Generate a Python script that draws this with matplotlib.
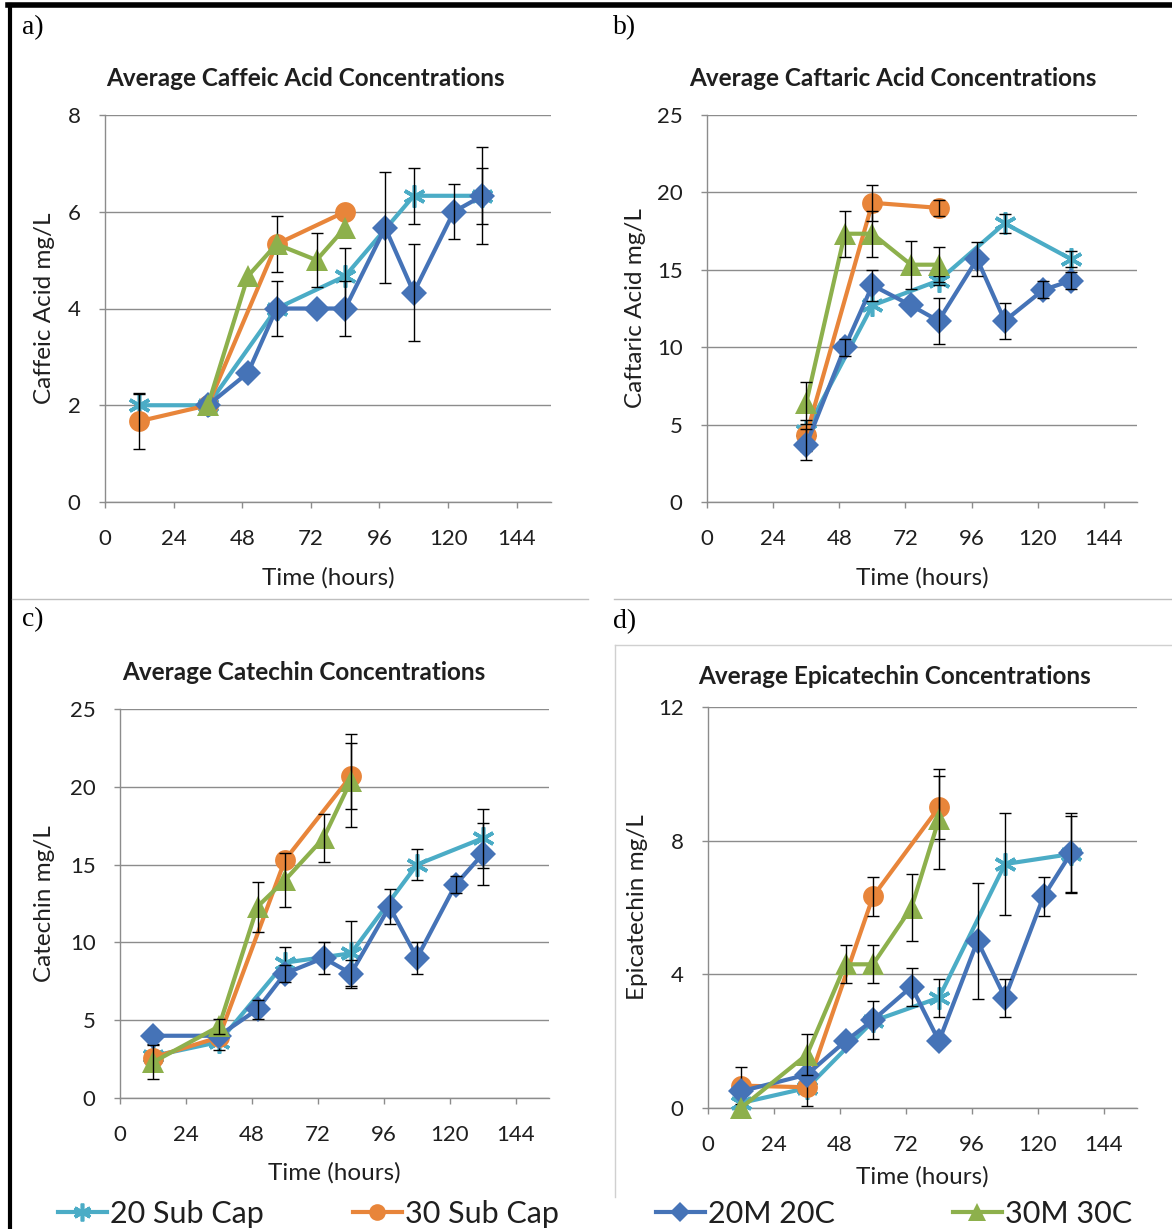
import numpy as np
import matplotlib
matplotlib.use("Agg")
import matplotlib.pyplot as plt
from matplotlib.lines import Line2D

# Sampling times (hours) for each treatment
hours_20sub = [12, 36, 60, 84, 108, 132]
hours_30sub = [12, 36, 60, 84]
hours_20m = [12, 36, 50, 60, 74, 84, 98, 108, 122, 132]
hours_30m = [12, 36, 50, 60, 74, 84]

series_names = ["20 Sub Cap", "30 Sub Cap", "20M 20C", "30M 30C"]

# Caffeic acid (mg/L) and standard deviations
caffeic_20sub = [2.0, 2.0, 4.0, 4.67, 6.33, 6.33]
caffeic_20sub_sd = [0.23, 0, 0, 0.58, 0.58, 0.58]
caffeic_30sub = [1.67, 2.0, 5.33, 6.0]
caffeic_30sub_sd = [0.58, 0, 0.58, 0]
caffeic_20m = [np.nan, 2.0, 2.67, 4.0, 4.0, 4.0, 5.67, 4.33, 6.0, 6.33]
caffeic_20m_sd = [0, 0, 0, 0.57, 0, 0.57, 1.15, 1.0, 0.57, 1.0]
caffeic_30m = [np.nan, 2.0, 4.67, 5.33, 5.0, 5.67]
caffeic_30m_sd = [0, 0, 0, 0, 0.56, 0]

# Caftaric acid (mg/L)
caftaric_20sub = [np.nan, 4.6, 12.7, 14.3, 18.0, 15.7]
caftaric_20sub_sd = [0, 0, 0, 0.3, 0.6, 0.5]
caftaric_30sub = [np.nan, 4.3, 19.33, 19.0]
caftaric_30sub_sd = [0, 1.0, 1.15, 0.5]
caftaric_20m = [np.nan, 3.7, 10.0, 14.0, 12.7, 11.7, 15.7, 11.7, 13.7, 14.3]
caftaric_20m_sd = [0, 1.0, 0.55, 1.0, 0, 1.5, 1.1, 1.15, 0.55, 0.55]
caftaric_30m = [np.nan, 6.4, 17.33, 17.33, 15.33, 15.33]
caftaric_30m_sd = [0, 1.35, 1.5, 1.5, 1.55, 1.15]

# Catechin (mg/L)
catechin_20sub = [2.7, 3.6, 8.7, 9.3, 15.0, 16.7]
catechin_20sub_sd = [0.8, 0.5, 1.0, 2.1, 1.0, 1.9]
catechin_30sub = [2.6, 3.9, 15.3, 20.7]
catechin_30sub_sd = [0, 0, 0, 2.1]
catechin_20m = [4.0, 4.0, 5.7, 8.0, 9.0, 8.0, 12.3, 9.0, 13.7, 15.7]
catechin_20m_sd = [0, 0, 0.6, 0.55, 1.0, 0.9, 1.1, 1.0, 0.55, 2.0]
catechin_30m = [2.3, 4.6, 12.3, 14.0, 16.7, 20.4]
catechin_30m_sd = [1.1, 0.5, 1.6, 1.75, 1.55, 3.0]

# Epicatechin (mg/L)
epicatechin_20sub = [0.15, 0.6, 2.6, 3.3, 7.3, 7.6]
epicatechin_20sub_sd = [0, 0, 0, 0.57, 1.52, 1.15]
epicatechin_30sub = [0.67, 0.62, 6.33, 9.0]
epicatechin_30sub_sd = [0.55, 0.55, 0.57, 0.95]
epicatechin_20m = [0.5, 1.0, 2.0, 2.63, 3.63, 2.0, 5.0, 3.3, 6.33, 7.63]
epicatechin_20m_sd = [0, 0, 0, 0.57, 0.57, 0, 1.73, 0.57, 0.57, 1.2]
epicatechin_30m = [0.0, 1.6, 4.3, 4.3, 6.0, 8.65]
epicatechin_30m_sd = [0, 0.6, 0.57, 0.57, 1.0, 1.5]

x_ticks = [0, 24, 48, 72, 96, 120, 144]

W, H = 1172, 1229
fig = plt.figure(figsize=(W / 100, H / 100), dpi=100)

SANS = ["Lato", "DejaVu Sans"]
SERIF = ["Liberation Serif", "DejaVu Serif"]
NARROW = ["Liberation Sans Narrow", "Lato", "DejaVu Sans"]

styles = [
    dict(color="#4BACC6", marker=(6, 2, 0), ms=16, mew=2.6, filled=False),
    dict(color="#E8853A", marker="o", ms=15, mew=0, filled=True),
    dict(color="#4573B7", marker="D", ms=13, mew=0, filled=True),
    dict(color="#8DB04C", marker="^", ms=16, mew=0, filled=True),
]
hours = [hours_20sub, hours_30sub, hours_20m, hours_30m]


def box(left, top, right, bottom):
    return [left / W, 1 - bottom / H, (right - left) / W, (bottom - top) / H]


def fx(x):
    return x / W


def fy(y):
    return 1 - y / H


panels = [
    dict(px=(105, 115, 551, 502), yticks=[0, 2, 4, 6, 8],
         title="Average Caffeic Acid Concentrations", tpos=(305, 78),
         ylabel="Caffeic Acid mg/L", ylx=45, xly=578, tag="a)", tagpos=(22, 28),
         data=[(caffeic_20sub, caffeic_20sub_sd), (caffeic_30sub, caffeic_30sub_sd),
               (caffeic_20m, caffeic_20m_sd), (caffeic_30m, caffeic_30m_sd)]),
    dict(px=(707, 115, 1137, 502), yticks=[0, 5, 10, 15, 20, 25],
         title="Average Caftaric Acid Concentrations", tpos=(893, 78),
         ylabel="Caftaric Acid mg/L", ylx=635, xly=578, tag="b)", tagpos=(613, 28),
         data=[(caftaric_20sub, caftaric_20sub_sd), (caftaric_30sub, caftaric_30sub_sd),
               (caftaric_20m, caftaric_20m_sd), (caftaric_30m, caftaric_30m_sd)]),
    dict(px=(120, 709, 549, 1098), yticks=[0, 5, 10, 15, 20, 25],
         title="Average Catechin Concentrations", tpos=(304, 672),
         ylabel="Catechin mg/L", ylx=45, xly=1173, tag="c)", tagpos=(22, 620),
         data=[(catechin_20sub, catechin_20sub_sd), (catechin_30sub, catechin_30sub_sd),
               (catechin_20m, catechin_20m_sd), (catechin_30m, catechin_30m_sd)]),
    dict(px=(708, 707, 1137, 1108), yticks=[0, 4, 8, 12],
         title="Average Epicatechin Concentrations", tpos=(895, 676),
         ylabel="Epicatechin mg/L", ylx=637, xly=1177, tag="d)", tagpos=(613, 622),
         data=[(epicatechin_20sub, epicatechin_20sub_sd), (epicatechin_30sub, epicatechin_30sub_sd),
               (epicatechin_20m, epicatechin_20m_sd), (epicatechin_30m, epicatechin_30m_sd)]),
]

axis_gray = "#8C8C8C"
text_col = "#1F1F1F"

legend_handles = []
for p in panels:
    l, t, r, b = p["px"]
    ax = fig.add_axes(box(l, t, r, b))
    ax.set_xlim(0, 156)
    ax.set_ylim(p["yticks"][0], p["yticks"][-1])
    ax.set_xticks(x_ticks)
    ax.set_yticks(p["yticks"])
    for side in ["top", "right"]:
        ax.spines[side].set_visible(False)
    for side in ["left", "bottom"]:
        ax.spines[side].set_color(axis_gray)
        ax.spines[side].set_linewidth(1.0)
    ax.yaxis.grid(True, color=axis_gray, linewidth=1.0)
    ax.set_axisbelow(True)
    ax.tick_params(axis="both", direction="out", length=4.5, width=1.0,
                   color=axis_gray, labelsize=16, labelcolor=text_col)
    ax.tick_params(axis="x", pad=15)
    ax.tick_params(axis="y", pad=13)
    for lab in ax.get_xticklabels() + ax.get_yticklabels():
        lab.set_family(SANS)

    for i, ((vals, sd), st, hrs) in enumerate(zip(p["data"], styles, hours)):
        vals = np.asarray(vals, dtype=float)
        sd = np.asarray(sd, dtype=float)
        hrs = np.asarray(hrs, dtype=float)
        line, = ax.plot(hrs, vals, color=st["color"], lw=3.0, marker=st["marker"],
                        ms=st["ms"], mew=st["mew"], mec=st["color"],
                        mfc=st["color"] if st["filled"] else "none",
                        clip_on=False, zorder=3 + 2 * i, label=series_names[i])
        m = sd > 0
        if m.any():
            ax.errorbar(hrs[m], vals[m], yerr=sd[m], fmt="none", ecolor="black",
                        elinewidth=1.0, capsize=4, capthick=1.0, zorder=4 + 2 * i,
                        clip_on=False)
        if len(legend_handles) < 4:
            legend_handles.append(line)

    fig.text(fx(p["tpos"][0]), fy(p["tpos"][1]), p["title"], ha="center", va="center",
             fontsize=17.5, fontweight="bold", family=SANS, color=text_col)
    fig.text(fx(p["ylx"]), fy((t + b) / 2), p["ylabel"], rotation=90, ha="center",
             va="center", fontsize=17.5, family=SANS, color=text_col)
    fig.text(fx((l + r) / 2), fy(p["xly"]), "Time (hours)", ha="center",
             va="center", fontsize=17.5, family=SANS, color=text_col)
    fig.text(fx(p["tagpos"][0]), fy(p["tagpos"][1]), p["tag"], ha="left", va="center",
             fontsize=20, family=SERIF, color="black")

# Page frame and panel separators
frame = [
    ((8, 1172), (5, 5), "black", 4.0),
    ((10, 10), (5, 1229), "black", 3.0),
    ((12, 588), (599, 599), "#BFBFBF", 1.0),
    ((614, 1172), (599, 599), "#BFBFBF", 1.0),
    ((615, 1172), (645, 645), "#D0D0D0", 1.0),
    ((615, 615), (645, 1197), "#D0D0D0", 1.0),
]
for xs, ys, c, lw in frame:
    fig.add_artist(Line2D([fx(xs[0]), fx(xs[1])], [fy(ys[0]), fy(ys[1])],
                          color=c, lw=lw, transform=fig.transFigure))

# Legend entries placed along the bottom
legend_x = [58, 353, 656, 953]
for h, lx in zip(legend_handles, legend_x):
    fig.legend([h], [h.get_label()], loc="center left",
               bbox_to_anchor=(fx(lx), fy(1214)), frameon=False,
               prop=dict(family=NARROW, size=22), handlelength=1.6,
               handletextpad=0.1, borderpad=0, borderaxespad=0,
               labelcolor=text_col, markerscale=0.8)

fig.savefig("out.png", dpi=100)
